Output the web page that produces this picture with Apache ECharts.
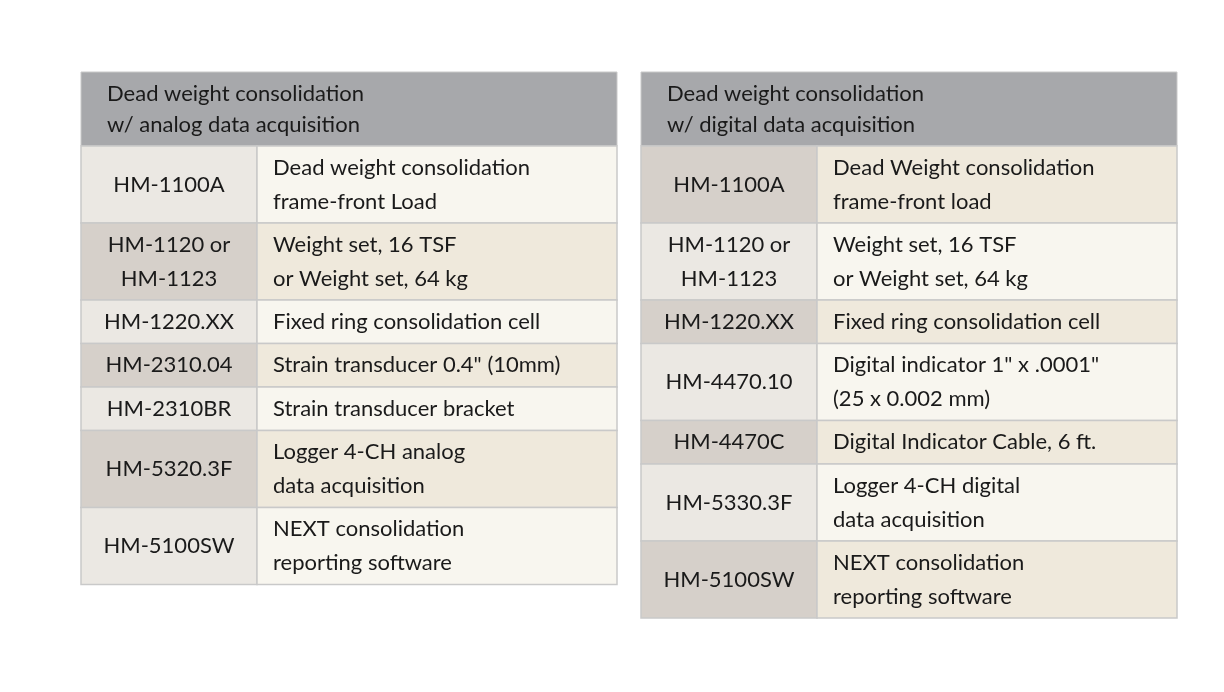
<!DOCTYPE html>
<html><head><meta charset="utf-8">
<script src="https://cdn.jsdelivr.net/npm/echarts@6/dist/echarts.min.js"></script>
<style>html,body{margin:0;background:#fff}#c{width:1224px;height:692px}</style>
</head><body><div id="c"></div>
<script>
const leftTitle = "Dead weight consolidation\nw/ analog data acquisition";
const leftCodes = ["HM-1100A","HM-1120 or\nHM-1123","HM-1220.XX","HM-2310.04","HM-2310BR","HM-5320.3F","HM-5100SW"];
const leftDescs = ["Dead weight consolidation\nframe-front Load","Weight set, 16 TSF\nor Weight set, 64 kg","Fixed ring consolidation cell","Strain transducer 0.4\" (10mm)","Strain transducer bracket","Logger 4-CH analog\ndata acquisition","NEXT consolidation\nreporting software"];
const rightTitle = "Dead weight consolidation\nw/ digital data acquisition";
const rightCodes = ["HM-1100A","HM-1120 or\nHM-1123","HM-1220.XX","HM-4470.10","HM-4470C","HM-5330.3F","HM-5100SW"];
const rightDescs = ["Dead Weight consolidation\nframe-front load","Weight set, 16 TSF\nor Weight set, 64 kg","Fixed ring consolidation cell","Digital indicator 1\" x .0001\"\n(25 x 0.002 mm)","Digital Indicator Cable, 6 ft.","Logger 4-CH digital\ndata acquisition","NEXT consolidation\nreporting software"];

const chart = echarts.init(document.getElementById('c'));
const FONT = 'Lato';
const pal = {light:['#ebe8e3','#f8f6ef'], dark:['#d6d0ca','#efe9dc']};
function table(x0, codes, descs, title, darkFirst){
  const els = [];
  const W1 = 176, W2 = 360, top = 72, headH = 74;
  els.push({type:'rect',shape:{x:x0,y:top,width:W1+W2,height:headH},style:{fill:'#a7a8ab',stroke:'#c9c9c9',lineWidth:1}});
  els.push({type:'text',x:x0+26,y:top+headH/2,style:{text:title,font:'22px '+FONT,fill:'#1a1a1a',lineHeight:31,verticalAlign:'middle',textAlign:'left'}});
  let y = top+headH;
  codes.forEach((c,i)=>{
    const lines = Math.max(c.split('\n').length, descs[i].split('\n').length);
    const h = lines>1 ? 77 : 43.5;
    const dark = (i%2===0)===darkFirst;
    const p = dark?pal.dark:pal.light;
    els.push({type:'rect',shape:{x:x0,y:y,width:W1,height:h},style:{fill:p[0],stroke:'#c9c9c9',lineWidth:1.5}});
    els.push({type:'rect',shape:{x:x0+W1,y:y,width:W2,height:h},style:{fill:p[1],stroke:'#c9c9c9',lineWidth:1.5}});
    els.push({type:'text',x:x0+W1/2,y:y+h/2,style:{text:c,font:'22px '+FONT,fill:'#1a1a1a',lineHeight:34,verticalAlign:'middle',textAlign:'center'}});
    els.push({type:'text',x:x0+W1+16,y:y+h/2,style:{text:descs[i],font:'22px '+FONT,fill:'#1a1a1a',lineHeight:34,verticalAlign:'middle',textAlign:'left'}});
    y += h;
  });
  return els;
}
chart.setOption({
  animation:false,
  graphic:[...table(81,leftCodes,leftDescs,leftTitle,false), ...table(641,rightCodes,rightDescs,rightTitle,true)]
});
</script></body></html>
